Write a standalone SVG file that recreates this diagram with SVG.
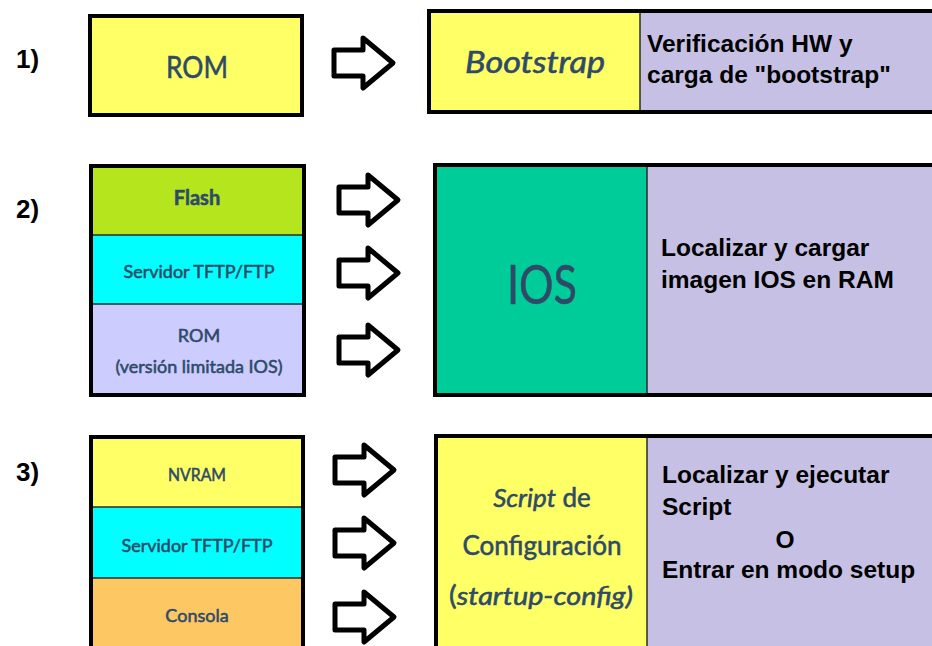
<svg xmlns="http://www.w3.org/2000/svg" width="932" height="646" viewBox="0 0 932 646">
  <style>
    .box{stroke:#000;stroke-width:4;fill:none}
    .div{stroke:#2a2a2a;stroke-width:1.5}
    .yel{fill:#ffff66}
    .pur{fill:#c6c0e4}
    .num{font-family:"Liberation Sans",Arial,sans-serif;font-weight:bold;font-size:26px;fill:#000}
    .blk{font-family:"Liberation Sans",Arial,sans-serif;font-weight:bold;font-size:24.5px;fill:#000}
    .nd{font-family:Lato,"Open Sans",sans-serif;fill:#2f4a68;stroke:#2f4a68;stroke-width:0.55;text-anchor:middle}
    .arrow{fill:#fff;stroke:#000;stroke-width:5;stroke-linejoin:round}
  </style>
  <defs>
    <path id="arr" d="M2,-13 H31 V-25 L61,0 L31,25 V13 H2 Z"/>
  </defs>
  <rect width="932" height="646" fill="#fff"/>

  <text class="num" x="16" y="68">1)</text>
  <text class="num" x="16" y="218">2)</text>
  <text class="num" x="16" y="481">3)</text>

  <g id="rom1">
    <rect class="yel" x="90" y="16" width="212" height="99"/>
    <rect class="box" x="90" y="16" width="212" height="99"/>
    <text class="nd" x="197" y="78" font-size="31" stroke-width="1" textLength="62" lengthAdjust="spacingAndGlyphs">ROM</text>
  </g>

  <g id="bootstrap">
    <rect class="yel" x="429" y="11" width="211" height="101"/>
    <rect class="pur" x="640" y="11" width="300" height="101"/>
    <line class="div" x1="640" y1="11" x2="640" y2="112"/>
    <rect class="box" x="429" y="11" width="520" height="101"/>
    <text class="nd" x="535" y="73" font-size="30" font-style="italic" textLength="140" lengthAdjust="spacingAndGlyphs">Bootstrap</text>
    <text class="blk" x="647" y="52">Verificación HW y</text>
    <text class="blk" x="647" y="83">carga de "bootstrap"</text>
  </g>

  <g id="sources2">
    <rect fill="#b5e61d" x="91" y="166" width="213" height="69"/>
    <rect fill="#00ffff" x="91" y="235" width="213" height="69"/>
    <rect fill="#ccccff" x="91" y="304" width="213" height="91"/>
    <line class="div" x1="91" y1="235" x2="304" y2="235"/>
    <line class="div" x1="91" y1="304" x2="304" y2="304"/>
    <rect class="box" x="91" y="166" width="213" height="229"/>
    <text class="nd" x="197" y="205" font-size="20" font-weight="bold" stroke-width="0.3">Flash</text>
    <text class="nd" x="199" y="278" font-size="18">Servidor TFTP/FTP</text>
    <text class="nd" x="199" y="342" font-size="18">ROM</text>
    <text class="nd" x="199" y="373" font-size="18">(versión limitada IOS)</text>
  </g>

  <g id="ios">
    <rect fill="#00cc99" x="435" y="165" width="212" height="230"/>
    <rect class="pur" x="647" y="165" width="300" height="230"/>
    <line class="div" x1="647" y1="165" x2="647" y2="395"/>
    <rect class="box" x="435" y="165" width="520" height="230"/>
    <text class="nd" x="542" y="304" font-size="54" stroke-width="1.8" textLength="70" lengthAdjust="spacingAndGlyphs">IOS</text>
    <text class="blk" x="661" y="256">Localizar y cargar</text>
    <text class="blk" x="661" y="288">imagen IOS en RAM</text>
  </g>

  <g id="sources3">
    <rect class="yel" x="91" y="437" width="212" height="70"/>
    <rect fill="#00ffff" x="91" y="507" width="212" height="71"/>
    <rect fill="#fdc864" x="91" y="578" width="212" height="80"/>
    <line class="div" x1="91" y1="507" x2="303" y2="507"/>
    <line class="div" x1="91" y1="578" x2="303" y2="578"/>
    <rect class="box" x="91" y="437" width="212" height="230"/>
    <text class="nd" x="197" y="481" font-size="18" textLength="58" lengthAdjust="spacingAndGlyphs">NVRAM</text>
    <text class="nd" x="197" y="552" font-size="18">Servidor TFTP/FTP</text>
    <text class="nd" x="197" y="622" font-size="18">Consola</text>
  </g>

  <g id="script">
    <rect class="yel" x="436" y="436" width="211" height="230"/>
    <rect class="pur" x="647" y="436" width="300" height="230"/>
    <line class="div" x1="647" y1="436" x2="647" y2="666"/>
    <rect class="box" x="436" y="436" width="520" height="230"/>
    <text class="nd" x="542" y="507" font-size="26"><tspan font-style="italic">Script</tspan> de</text>
    <text class="nd" x="542" y="555" font-size="26">Configuración</text>
    <text class="nd" x="541" y="605" font-size="26" textLength="184" lengthAdjust="spacingAndGlyphs">(<tspan font-style="italic">startup-config)</tspan></text>
    <text class="blk" x="662" y="483" font-size="25">Localizar y ejecutar</text>
    <text class="blk" x="662" y="515" font-size="25">Script</text>
    <text class="blk" x="785" y="548" font-size="25" text-anchor="middle">O</text>
    <text class="blk" x="662" y="578" font-size="25">Entrar en modo setup</text>
  </g>

  <g id="connectors">
    <use href="#arr" class="arrow" transform="translate(332,63)"/>
    <use href="#arr" class="arrow" transform="translate(337,200)"/>
    <use href="#arr" class="arrow" transform="translate(337,273)"/>
    <use href="#arr" class="arrow" transform="translate(337,350)"/>
    <use href="#arr" class="arrow" transform="translate(333,470)"/>
    <use href="#arr" class="arrow" transform="translate(333,543)"/>
    <use href="#arr" class="arrow" transform="translate(333,617)"/>
  </g>
</svg>
